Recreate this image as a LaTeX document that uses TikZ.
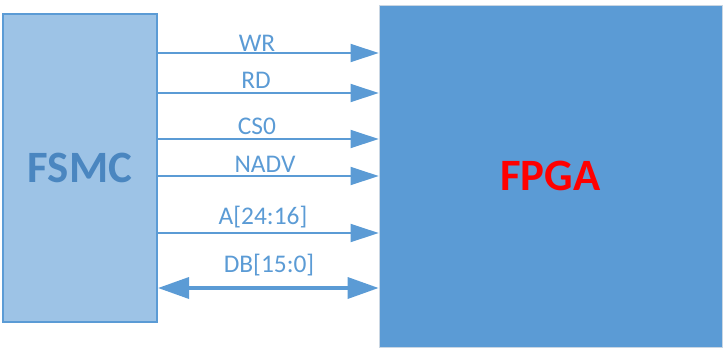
\documentclass[tikz,border=0pt]{standalone}
\usepackage{fontspec}
\setmainfont{Carlito}
\usetikzlibrary{positioning,arrows.meta}
\definecolor{accblue}{HTML}{5B9BD5}
\definecolor{lightblue}{HTML}{9DC3E6}
\definecolor{titleblue}{RGB}{74,134,192}
\definecolor{edgegray}{HTML}{C9D6E3}

\begin{document}
\begin{tikzpicture}[x=1bp,y=1bp,
    block/.style={inner sep=0pt, font=\fontsize{45}{54}\selectfont\bfseries},
    sig/.style={draw=accblue, line width=2bp, -{Triangle[length=28bp,width=18bp]}},
    bus/.style={draw=accblue, line width=3.5bp, {Triangle[length=31bp,width=21bp]}-{Triangle[length=31bp,width=21bp]}},
    lab/.style={text=accblue, font=\fontsize{25.5}{30}\selectfont, anchor=base, inner sep=0pt}]
    \useasboundingbox (0,0) rectangle (727,354);
    % the two blocks
    \node[block, draw=accblue, line width=2bp, fill=lightblue, text=titleblue,
          minimum width=154bp, minimum height=308bp] (fsmc) at (80,186) {FSMC};
    \node[block, draw=edgegray, line width=0.75bp, fill=accblue, text=red,
          minimum width=343bp, minimum height=342bp] (fpga) at (550.5,178) {FPGA};
    % control and address lines
    \foreach \y/\dy/\x/\name in {301/2/257/WR, 261/5/256/RD, 215/5/257/CS0, 178/4/265/NADV, 121/9/263/A[24:16]} {
        \draw[sig] (fsmc.east |- 0,\y) -- (fpga.west |- 0,\y);
        \node[lab] at (\x,\y+\dy) {\name};
    }
    % data bus
    \draw[bus] (fsmc.east |- 0,66) -- (fpga.west |- 0,66);
    \node[lab] (db) at (269,82) {DB[15:0]};
\end{tikzpicture}
\end{document}
